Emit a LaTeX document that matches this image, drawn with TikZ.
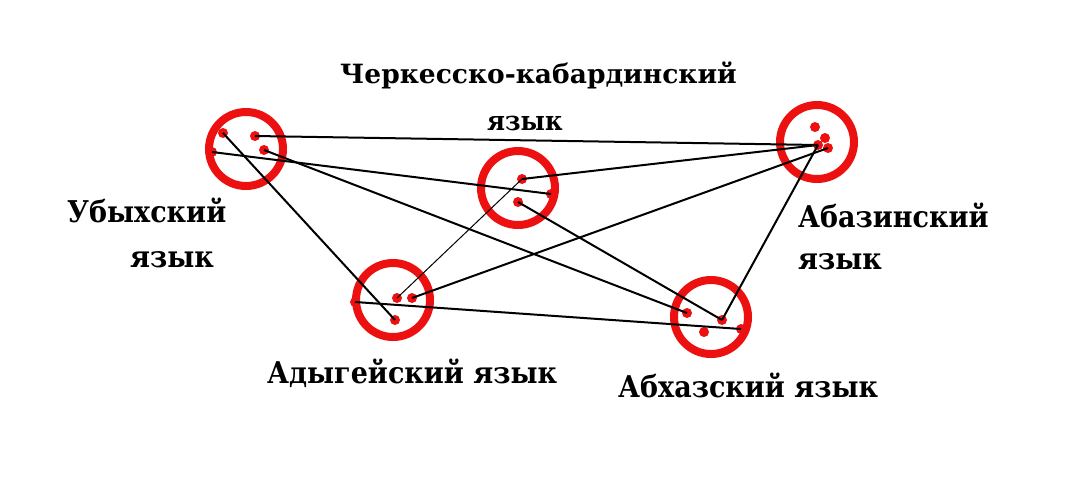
\documentclass[tikz,border=0pt]{standalone}
\usepackage{fontspec}
\setmainfont{DejaVu Serif}
\newfontfamily\lblfont[FakeStretch=0.9]{DejaVu Serif}
\definecolor{ringred}{RGB}{236,16,16}
\tikzset{
  ring/.style={circle, draw=ringred, line width=8pt, minimum size=74pt, inner sep=0pt},
  rdot/.style={circle, fill=ringred, minimum size=10pt, inner sep=0pt},
  link/.style={draw=black, line width=2pt},
  thinlink/.style={draw=black, line width=1pt},
  lbl/.style={anchor=base west, inner sep=0pt, font=\lblfont\bfseries\fontsize{30}{30}\selectfont},
  lblc/.style={anchor=base west, inner sep=0pt, font=\fontsize{26.5}{27}\selectfont\bfseries},
  lblcb/.style={anchor=base west, inner sep=0pt, font=\lblfont\bfseries\fontsize{27}{27}\selectfont}
}
\begin{document}
\begin{tikzpicture}[x=1pt, y=-1pt]
\useasboundingbox (0,0) rectangle (1091,483);
\fill[white] (0,0) rectangle (1091,483);
% rings
\node[ring] (ub) at (246,149) {};
\node[ring] (ce) at (518,188) {};
\node[ring] (az) at (817,142) {};
\node[ring] (ad) at (393,300) {};
\node[ring] (ak) at (711,317) {};
% dots
\node[rdot] (u1) at (223,133) {};
\node[rdot] (u2) at (255,136) {};
\node[rdot] (u3) at (264,150) {};
\node[rdot] (u4) at (212,152) {};
\node[rdot] (c1) at (522,179) {};
\node[rdot] (c2) at (518,202) {};
\node[rdot] (c3) at (551,194) {};
\node[rdot] (z1) at (815,127) {};
\node[rdot] (z2) at (825,138) {};
\node[rdot] (z3) at (818,145) {};
\node[rdot] (z4) at (828,148) {};
\node[rdot] (d1) at (397,298) {};
\node[rdot] (d2) at (412,298) {};
\node[rdot] (d3) at (395,320) {};
\node[rdot] (d4) at (355,302) {};
\node[rdot] (k1) at (687,313) {};
\node[rdot] (k2) at (722,320) {};
\node[rdot] (k3) at (704,332) {};
\node[rdot] (k4) at (741,329) {};
% links
\draw[link] (u2.center) -- (z3.center);
\draw[link] (u1.center) -- (d3.center);
\draw[link] (u4.center) -- (c3.center);
\draw[link] (u3.center) -- (k1.center);
\draw[link] (c2.center) -- (k2.center);
\draw[link] (c1.center) -- (z3.center);
\draw[link] (d2.center) -- (z4.center);
\draw[thinlink] (d1.center) -- (c1.center);
\draw[link] (d4.center) -- (k4.center);
\draw[link] (k2.center) -- (z3.center);
% labels
\node[lblc] (tc1) at (340,83) {Черкесско-кабардинский};
\node[lblcb] (tc2) at (487,130) {язык};
\node[lbl] (tu1) at (67,222) {Убыхский};
\node[lbl] (tu2) at (130,267) {язык};
\node[lbl] (tz1) at (798,227) {Абазинский};
\node[lbl] (tz2) at (798,269) {язык};
\node[lbl] (td) at (267,383) {Адыгейский язык};
\node[lbl] (tk) at (618,397) {Абхазский язык};
\end{tikzpicture}
\end{document}
